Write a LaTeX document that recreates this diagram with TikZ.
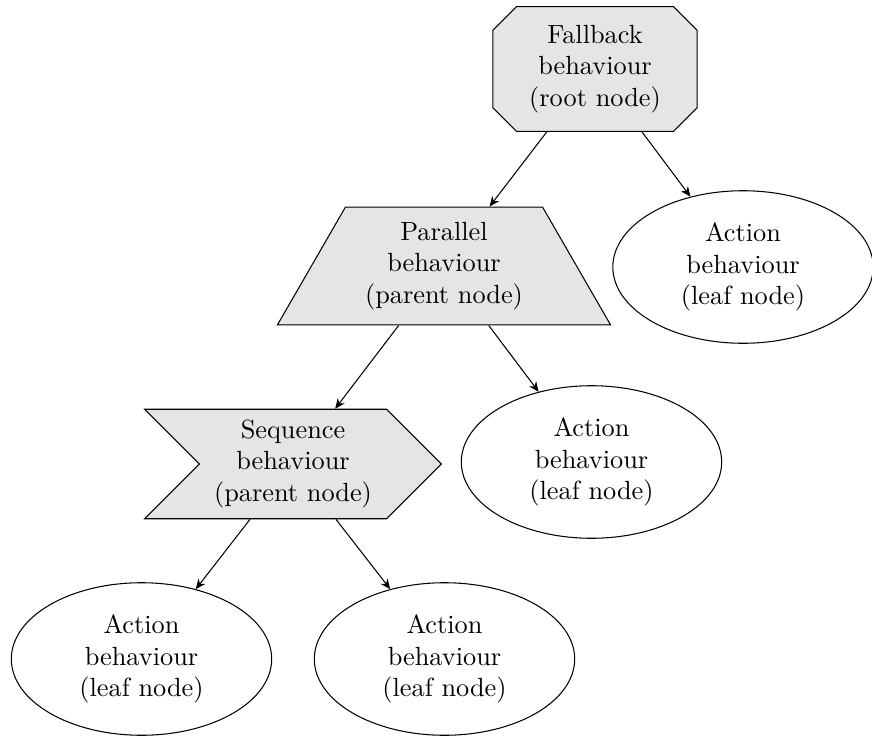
\documentclass[tikz,border=0pt]{standalone}
\usetikzlibrary{shapes.geometric,shapes.misc,shapes.symbols,arrows.meta}
\begin{document}
\begin{tikzpicture}[x=0.38023pt,y=-0.38023pt,
  branch/.style={draw=black, fill=gray!20, align=center},
  leaf/.style={draw=black, ellipse, align=center, minimum width=99pt, minimum height=58pt, inner sep=0pt},
  link/.style={-{Stealth[length=3.8pt,width=3.3pt,inset=1.2pt]}}]
\useasboundingbox (0,0) rectangle (872,736);
\node[branch, chamfered rectangle, chamfered rectangle xsep=4.5pt, chamfered rectangle ysep=4.5pt,
      minimum width=77.6pt, minimum height=47.5pt, inner sep=0pt] (root) at (595,69)
      {Fallback\\behaviour\\(root node)};
\node[branch, trapezium, trapezium left angle=60, trapezium right angle=60,
      inner xsep=7.45pt, inner ysep=5.7pt] (par) at (444,266)
      {Parallel\\behaviour\\(parent node)};
\node[branch, signal, signal to=east, signal from=west,
      inner xsep=5.55pt, inner ysep=4.05pt] (seq) at (293,464)
      {Sequence\\behaviour\\(parent node)};
\node[leaf] (a1) at (743,267) {Action\\behaviour\\(leaf node)};
\node[leaf] (a2) at (591.5,462) {Action\\behaviour\\(leaf node)};
\node[leaf] (a3) at (141.5,659) {Action\\behaviour\\(leaf node)};
\node[leaf] (a4) at (444.5,659) {Action\\behaviour\\(leaf node)};
\draw[link] (root) -- (par);
\draw[link] (root) -- (a1);
\draw[link] (par) -- (seq);
\draw[link] (par) -- (a2);
\draw[link] (seq) -- (a3);
\draw[link] (seq) -- (a4);
\end{tikzpicture}
\end{document}
